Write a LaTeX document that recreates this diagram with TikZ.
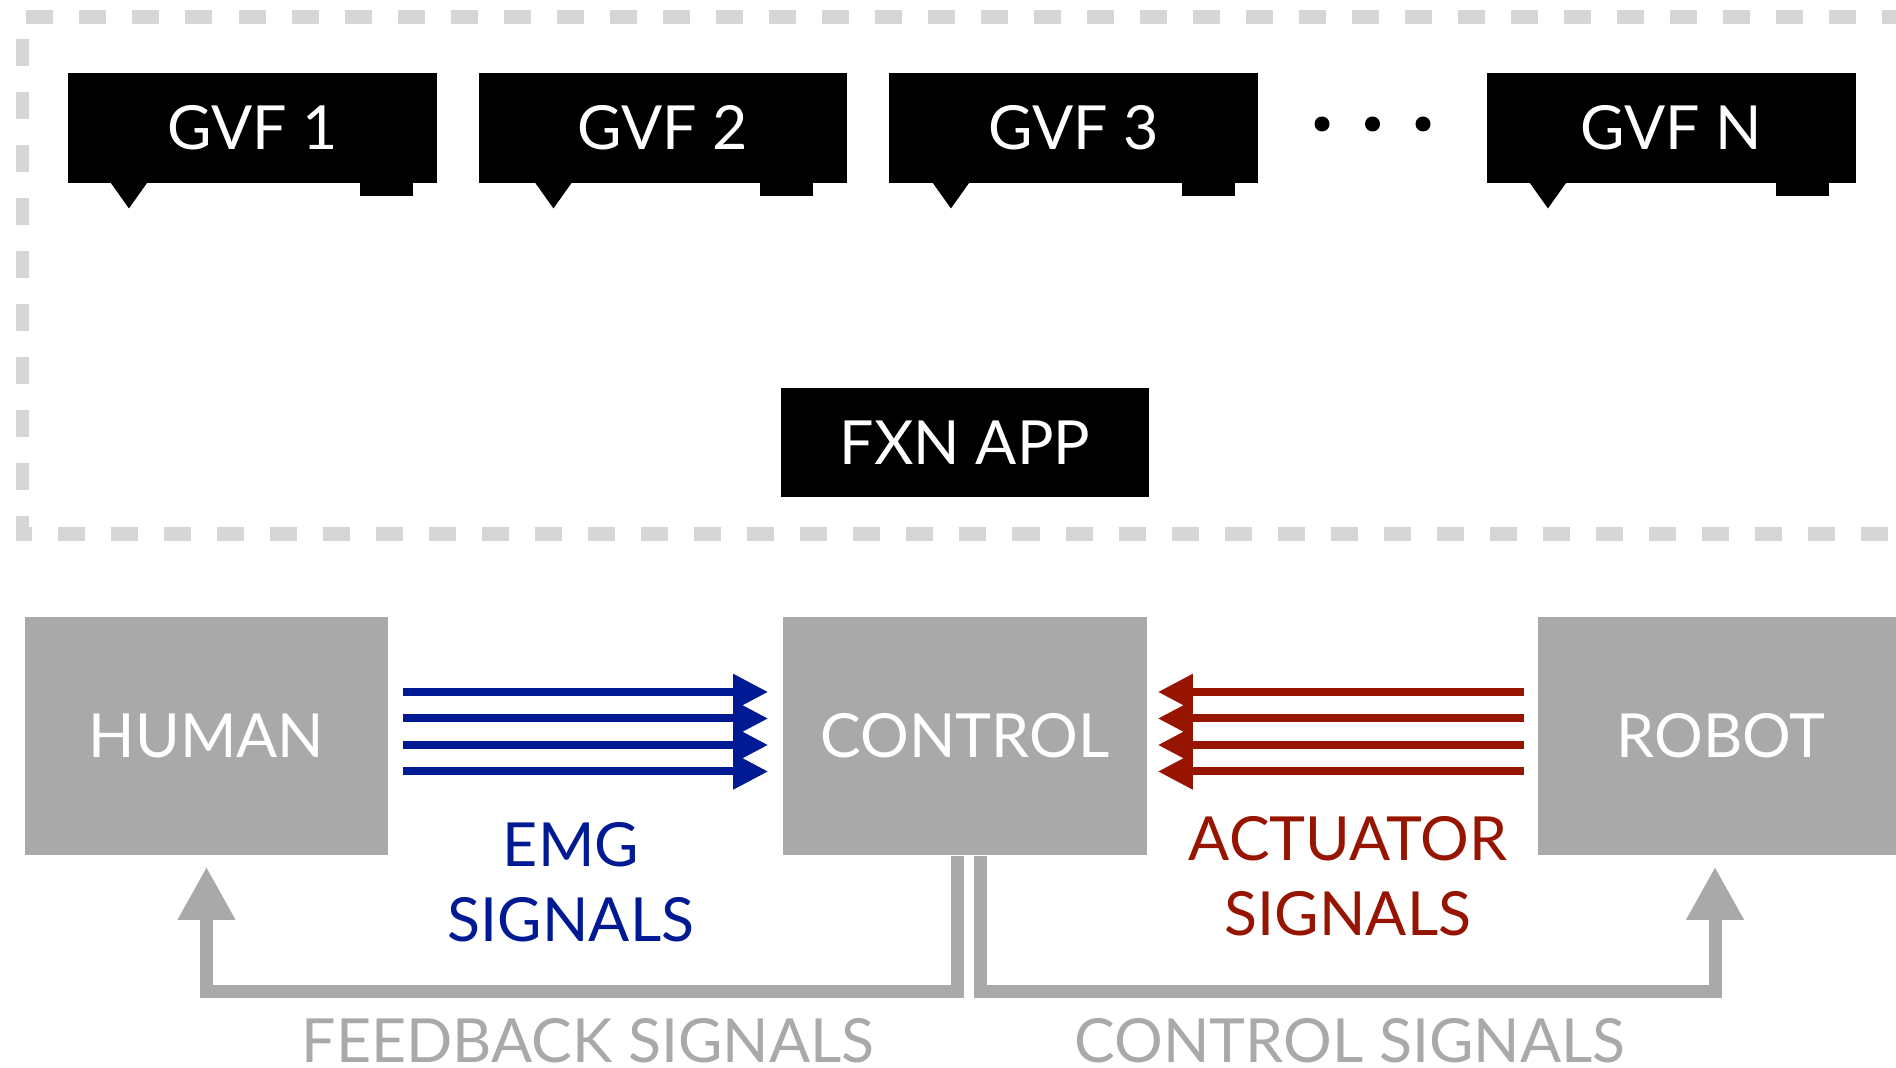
\documentclass[tikz,border=0pt]{standalone}
\usepackage{fontspec}
\setmainfont{Lato}
\usetikzlibrary{arrows.meta}
\definecolor{framegray}{RGB}{214,214,214}
\definecolor{boxgray}{RGB}{169,169,169}
\definecolor{emgblue}{RGB}{0,26,148}
\definecolor{actred}{RGB}{150,20,0}

% GVF bubble: name, centre x, text, pointer offset from left, tab offset from right
\newcommand\gvfbubble[5]{%
  \node[blackbox] (#1) at (#2,128) {#3};
  \fill (#1.south west) ++(#4,-1) -- ++(18.5,26) -- ++(18.5,-26) -- cycle;
  \fill (#1.south east) ++(-#5,-1) rectangle ++(-53,14);
}

\begin{document}
\begin{tikzpicture}[x=0.01cm,y=-0.01cm,
  txtfont/.style={font=\fontsize{17.3}{21.2}\selectfont},
  blackbox/.style={fill=black, text=white, inner sep=0pt,
    minimum width=3.685cm, minimum height=1.094cm, txtfont},
  graybox/.style={fill=boxgray, text=white, inner sep=0pt,
    minimum height=2.38cm, txtfont},
  sig/.style={line width=0.08cm, -{Triangle[length=0.35cm,width=0.34cm]}},
  fbline/.style={draw=boxgray, line width=0.13cm, line join=miter,
    -{Triangle[length=0.53cm,width=0.54cm]}, shorten >=0.11cm},
  capt/.style={inner sep=0pt, align=center, txtfont},
]
\clip (0,0) rectangle (1896,1068);
\fill[white] (0,0) rectangle (1896,1068);

% dashed frame around the GVF layer
\draw[framegray, line width=0.135cm, line join=miter,
  dash pattern=on 0.27cm off 0.26cm, dash phase=0.31cm]
  (1910,534) -- (22.5,534) -- (22.5,17) -- (1910,17);

% GVF bubbles
\gvfbubble{g1}{252.5}{GVF 1}{43}{25}
\gvfbubble{g2}{663}{GVF 2}{57}{35}
\gvfbubble{g3}{1073.5}{GVF 3}{44}{24}
\gvfbubble{gn}{1671.5}{GVF N}{43}{28}

% ellipsis
\foreach \cx in {1322,1372.5,1423}
  \fill (\cx,124) circle[radius=0.075cm];

\node[blackbox, minimum width=3.68cm, minimum height=1.09cm] (fxn) at (965,442.5) {FXN APP};

% main loop
\node[graybox, minimum width=3.63cm] (human) at (206.5,736) {HUMAN};
\node[graybox, minimum width=3.64cm] (control) at (965,736) {CONTROL};
\node[graybox, minimum width=3.66cm] (robot) at (1721,736) {ROBOT};

\foreach \dy in {692,718.5,745,771.5} {
  \draw[sig, emgblue, shorten <=0.14cm, shorten >=0.14cm]
    (human.east |- 0,\dy) -- (control.west |- 0,\dy);
  \draw[sig, actred, shorten <=0.13cm, shorten >=0.10cm]
    (robot.west |- 0,\dy) -- (control.east |- 0,\dy);
}

\draw[fbline] (control.south -| 957,0) -- ++(0,135.5) -| (human.south);
\draw[fbline] (control.south -| 980.5,0) -- ++(0,135.5) -| (robot.south -| 1715,0);

\node[capt, text=emgblue] (emg) at (571,882) {EMG\\SIGNALS};
\node[capt, text=actred] (act) at (1348,876) {ACTUATOR\\SIGNALS};
\node[capt, text=boxgray] (fb) at (588,1040.5) {FEEDBACK SIGNALS};
\node[capt, text=boxgray] (cs) at (1350,1040.5) {CONTROL SIGNALS};
\end{tikzpicture}
\end{document}
